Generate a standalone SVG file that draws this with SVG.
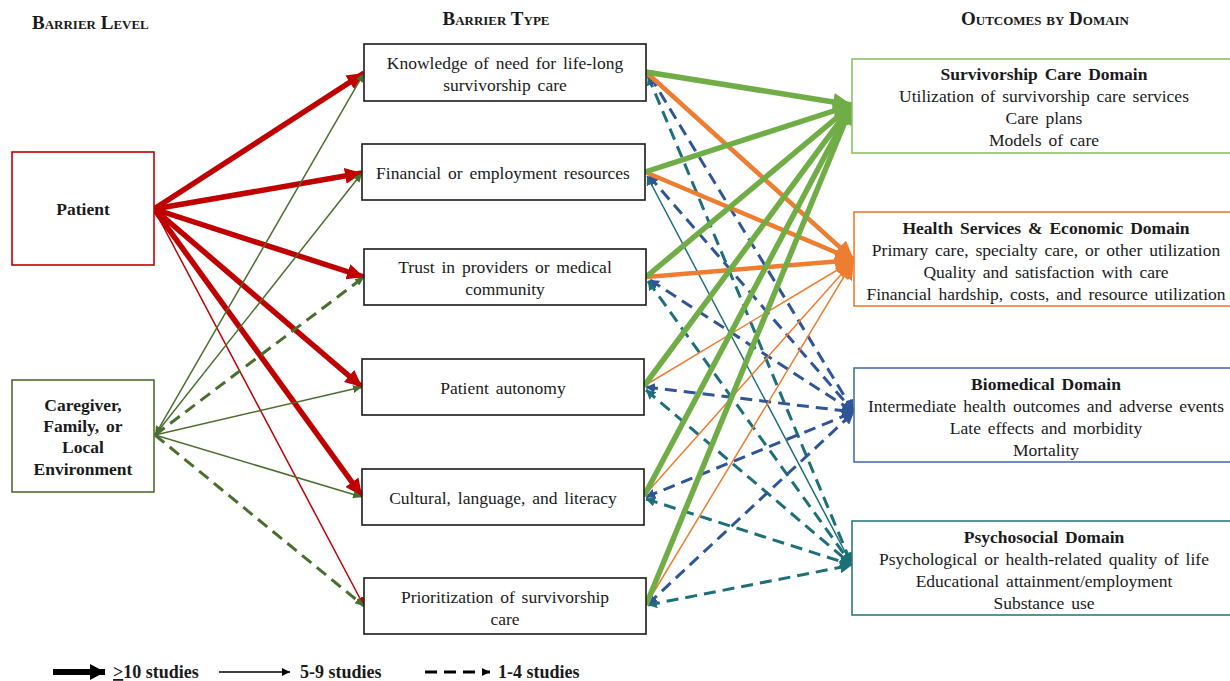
<svg xmlns="http://www.w3.org/2000/svg" width="1230" height="681" viewBox="0 0 1230 681">
  <style>
    .box { fill: #ffffff; stroke-width: 1.6; }
    .mid { stroke: #1a1a1a; }
    .t { font-family: "Liberation Serif", "Times New Roman", serif; font-size: 17.5px; fill: #1a1a1a; text-anchor: middle; word-spacing: 2.5px; }
    .b { font-weight: bold; }
    .hdr { font-family: "Liberation Serif", "Times New Roman", serif; font-size: 19px; font-weight: bold; font-variant: small-caps; fill: #1a1a1a; }
    .leg { font-family: "Liberation Serif", "Times New Roman", serif; font-size: 18px; font-weight: bold; fill: #1a1a1a; }
    .c { fill: none; }
    .red { stroke: #c00000; }
    .dg { stroke: #4a6e2f; }
    .lg { stroke: #70ad47; }
    .or { stroke: #ed7d31; }
    .bl { stroke: #2f5597; }
    .tl { stroke: #1d6f78; }
    .thick { stroke-width: 5.5; }
    .thin { stroke-width: 1.5; }
    .dash { stroke-width: 3; stroke-dasharray: 12 7; }
  </style>
  <defs>
    <marker id="hRed" markerUnits="userSpaceOnUse" markerWidth="18" markerHeight="16" refX="17" refY="8" orient="auto">
      <path d="M0,0 L17,8 L0,16 Z" fill="#c00000"/>
    </marker>
    <marker id="hRedS" markerUnits="userSpaceOnUse" markerWidth="10" markerHeight="8" refX="9" refY="4" orient="auto">
      <path d="M0,0 L9,4 L0,8 Z" fill="#c00000"/>
    </marker>
    <marker id="hDg" markerUnits="userSpaceOnUse" markerWidth="10" markerHeight="8" refX="9" refY="4" orient="auto-start-reverse">
      <path d="M0,0 L9,4 L0,8 Z" fill="#4a6e2f"/>
    </marker>
    <marker id="hLg" markerUnits="userSpaceOnUse" markerWidth="20" markerHeight="18" refX="19" refY="9" orient="auto">
      <path d="M0,0 L19,9 L0,18 Z" fill="#70ad47"/>
    </marker>
    <marker id="hOr" markerUnits="userSpaceOnUse" markerWidth="20" markerHeight="18" refX="19" refY="9" orient="auto">
      <path d="M0,0 L19,9 L0,18 Z" fill="#ed7d31"/>
    </marker>
    <marker id="hBl" markerUnits="userSpaceOnUse" markerWidth="13" markerHeight="12" refX="12" refY="6" orient="auto-start-reverse">
      <path d="M0,0 L12,6 L0,12 Z" fill="#2f5597"/>
    </marker>
    <marker id="hBlS" markerUnits="userSpaceOnUse" markerWidth="10" markerHeight="10" refX="9" refY="5" orient="auto-start-reverse">
      <path d="M0,0 L9,5 L0,10 Z" fill="#2f5597"/>
    </marker>
    <marker id="hTl" markerUnits="userSpaceOnUse" markerWidth="13" markerHeight="12" refX="12" refY="6" orient="auto-start-reverse">
      <path d="M0,0 L12,6 L0,12 Z" fill="#1d6f78"/>
    </marker>
    <marker id="hTlS" markerUnits="userSpaceOnUse" markerWidth="10" markerHeight="10" refX="9" refY="5" orient="auto-start-reverse">
      <path d="M0,0 L9,5 L0,10 Z" fill="#1d6f78"/>
    </marker>
    <marker id="hBk" markerUnits="userSpaceOnUse" markerWidth="16" markerHeight="16" refX="15" refY="8" orient="auto">
      <path d="M0,0 L15,8 L0,16 Z" fill="#000000"/>
    </marker>
    <marker id="hBkS" markerUnits="userSpaceOnUse" markerWidth="9" markerHeight="8" refX="8" refY="4" orient="auto">
      <path d="M0,0 L8,4 L0,8 Z" fill="#000000"/>
    </marker>
  </defs>

  <rect width="1230" height="681" fill="#ffffff"/>

  <!-- column headings -->
  <g id="headings">
    <text class="hdr" x="32" y="29">Barrier Level</text>
    <text class="hdr" x="496" y="25" text-anchor="middle">Barrier Type</text>
    <text class="hdr" x="1045" y="25" text-anchor="middle">Outcomes by Domain</text>
  </g>

  <!-- connectors -->
  <g id="connectors">
    <!-- patient level -->
    <line class="c red thick" x1="154" y1="209" x2="364" y2="73" marker-end="url(#hRed)"/>
    <line class="c red thick" x1="154" y1="209" x2="362" y2="173" marker-end="url(#hRed)"/>
    <line class="c red thick" x1="154" y1="209" x2="364" y2="277" marker-end="url(#hRed)"/>
    <line class="c red thick" x1="154" y1="209" x2="362" y2="387" marker-end="url(#hRed)"/>
    <line class="c red thick" x1="154" y1="209" x2="362" y2="496" marker-end="url(#hRed)"/>
    <line class="c red thin" x1="154" y1="209" x2="364" y2="606" marker-end="url(#hRedS)"/>

    <!-- caregiver / family / local environment level -->
    <line class="c dg thin" x1="155" y1="435" x2="364" y2="73" marker-start="url(#hDg)" marker-end="url(#hDg)"/>
    <line class="c dg thin" x1="155" y1="435" x2="362" y2="173" marker-end="url(#hDg)"/>
    <line class="c dg dash" x1="155" y1="435" x2="364" y2="277" marker-end="url(#hDg)"/>
    <line class="c dg thin" x1="155" y1="435" x2="362" y2="387" marker-end="url(#hDg)"/>
    <line class="c dg thin" x1="155" y1="435" x2="362" y2="497" marker-end="url(#hDg)"/>
    <line class="c dg dash" x1="155" y1="435" x2="364" y2="606" marker-end="url(#hDg)"/>

    <!-- psychosocial domain -->
    <line class="c tl dash" x1="648" y1="76" x2="852" y2="565" marker-start="url(#hTlS)" marker-end="url(#hTl)"/>
    <line class="c tl thin" x1="647" y1="176" x2="852" y2="565" marker-start="url(#hTlS)" marker-end="url(#hTl)"/>
    <line class="c tl dash" x1="648" y1="281" x2="852" y2="565" marker-start="url(#hTlS)" marker-end="url(#hTl)"/>
    <line class="c tl dash" x1="646" y1="390" x2="852" y2="565" marker-start="url(#hTlS)" marker-end="url(#hTl)"/>
    <line class="c tl dash" x1="646" y1="499" x2="852" y2="565" marker-start="url(#hTlS)" marker-end="url(#hTl)"/>
    <line class="c tl dash" x1="648" y1="605" x2="852" y2="565" marker-start="url(#hTlS)" marker-end="url(#hTl)"/>

    <!-- biomedical domain -->
    <line class="c bl dash" x1="650" y1="76" x2="854" y2="412" marker-start="url(#hBlS)" marker-end="url(#hBl)"/>
    <line class="c bl dash" x1="649" y1="176" x2="854" y2="412" marker-start="url(#hBlS)" marker-end="url(#hBl)"/>
    <line class="c bl dash" x1="650" y1="280" x2="854" y2="412" marker-start="url(#hBlS)" marker-end="url(#hBl)"/>
    <line class="c bl dash" x1="646" y1="387" x2="854" y2="412" marker-start="url(#hBlS)" marker-end="url(#hBl)"/>
    <line class="c bl dash" x1="646" y1="497" x2="854" y2="412" marker-start="url(#hBlS)" marker-end="url(#hBl)"/>
    <line class="c bl dash" x1="648" y1="604" x2="854" y2="412" marker-start="url(#hBlS)" marker-end="url(#hBl)"/>

    <!-- health services & economic domain -->
    <line class="c or thin" x1="644" y1="386" x2="854" y2="260" marker-end="url(#hOr)"/>
    <line class="c or thin" x1="644" y1="496" x2="854" y2="260" marker-end="url(#hOr)"/>
    <line class="c or thin" x1="646" y1="605" x2="854" y2="260" marker-end="url(#hOr)"/>
    <line class="c or" stroke-width="4.5" x1="646" y1="72" x2="854" y2="260" marker-end="url(#hOr)"/>
    <line class="c or" stroke-width="4.5" x1="645" y1="172" x2="854" y2="260" marker-end="url(#hOr)"/>
    <line class="c or" stroke-width="4.5" x1="646" y1="277" x2="854" y2="260" marker-end="url(#hOr)"/>

    <!-- survivorship care domain -->
    <line class="c lg thick" x1="646" y1="72" x2="852" y2="105" marker-end="url(#hLg)"/>
    <line class="c lg thick" x1="645" y1="172" x2="852" y2="105" marker-end="url(#hLg)"/>
    <line class="c lg thick" x1="646" y1="277" x2="852" y2="105" marker-end="url(#hLg)"/>
    <line class="c lg thick" x1="644" y1="386" x2="852" y2="105" marker-end="url(#hLg)"/>
    <line class="c lg thick" x1="644" y1="496" x2="852" y2="105" marker-end="url(#hLg)"/>
    <line class="c lg thick" x1="646" y1="605" x2="852" y2="105" marker-end="url(#hLg)"/>
  </g>

  <!-- barrier level -->
  <g id="patient">
    <rect class="box" x="12" y="152" width="142" height="113" stroke="#c00000"/>
    <text class="t b" x="83" y="215">Patient</text>
  </g>
  <g id="caregiver">
    <rect class="box" x="12" y="380" width="142" height="112" stroke="#4a6e2f"/>
    <text class="t b" x="83" y="411">Caregiver,</text>
    <text class="t b" x="83" y="432">Family, or</text>
    <text class="t b" x="83" y="453">Local</text>
    <text class="t b" x="83" y="475">Environment</text>
  </g>

  <!-- barrier type -->
  <g id="knowledge">
    <rect class="box mid" x="364" y="44" width="282" height="57"/>
    <text class="t" x="505" y="69">Knowledge of need for life-long</text>
    <text class="t" x="505" y="91">survivorship care</text>
  </g>
  <g id="financial">
    <rect class="box mid" x="362" y="144" width="283" height="56"/>
    <text class="t" x="503" y="179">Financial or employment resources</text>
  </g>
  <g id="trust">
    <rect class="box mid" x="364" y="249" width="282" height="56"/>
    <text class="t" x="505" y="273">Trust in providers or medical</text>
    <text class="t" x="505" y="295">community</text>
  </g>
  <g id="autonomy">
    <rect class="box mid" x="362" y="359" width="282" height="56"/>
    <text class="t" x="503" y="394">Patient autonomy</text>
  </g>
  <g id="cultural">
    <rect class="box mid" x="362" y="469" width="282" height="56"/>
    <text class="t" x="503" y="504">Cultural, language, and literacy</text>
  </g>
  <g id="prioritization">
    <rect class="box mid" x="364" y="578" width="282" height="56"/>
    <text class="t" x="505" y="603">Prioritization of survivorship</text>
    <text class="t" x="505" y="625">care</text>
  </g>

  <!-- outcome domains -->
  <g id="survivorship-care">
    <rect class="box" x="852" y="59" width="382" height="94" stroke="#8cc068"/>
    <text class="t b" x="1044" y="80">Survivorship Care Domain</text>
    <text class="t" x="1044" y="102">Utilization of survivorship care services</text>
    <text class="t" x="1044" y="124">Care plans</text>
    <text class="t" x="1044" y="146">Models of care</text>
  </g>
  <g id="health-services">
    <rect class="box" x="854" y="212" width="380" height="94" stroke="#ed7d31"/>
    <text class="t b" x="1046" y="234">Health Services &amp; Economic Domain</text>
    <text class="t" x="1046" y="256">Primary care, specialty care, or other utilization</text>
    <text class="t" x="1046" y="278">Quality and satisfaction with care</text>
    <text class="t" x="1046" y="300">Financial hardship, costs, and resource utilization</text>
  </g>
  <g id="biomedical">
    <rect class="box" x="854" y="368" width="380" height="94" stroke="#4a6fb0"/>
    <text class="t b" x="1046" y="390">Biomedical Domain</text>
    <text class="t" x="1046" y="412">Intermediate health outcomes and adverse events</text>
    <text class="t" x="1046" y="434">Late effects and morbidity</text>
    <text class="t" x="1046" y="456">Mortality</text>
  </g>
  <g id="psychosocial">
    <rect class="box" x="852" y="521" width="382" height="94" stroke="#2e7a80"/>
    <text class="t b" x="1044" y="543">Psychosocial Domain</text>
    <text class="t" x="1044" y="565">Psychological or health-related quality of life</text>
    <text class="t" x="1044" y="587">Educational attainment/employment</text>
    <text class="t" x="1044" y="609">Substance use</text>
  </g>

  <!-- legend -->
  <g id="legend">
    <line x1="53" y1="672" x2="105" y2="672" stroke="#000000" stroke-width="6" marker-end="url(#hBk)"/>
    <text class="leg" x="113" y="678"><tspan text-decoration="underline">&gt;</tspan>10 studies</text>
    <line x1="219" y1="672" x2="290" y2="672" stroke="#000000" stroke-width="1.3" marker-end="url(#hBkS)"/>
    <text class="leg" x="300" y="678">5-9 studies</text>
    <line x1="425" y1="672" x2="490" y2="672" stroke="#000000" stroke-width="3" stroke-dasharray="12 7" marker-end="url(#hBkS)"/>
    <text class="leg" x="498" y="678">1-4 studies</text>
  </g>
</svg>
